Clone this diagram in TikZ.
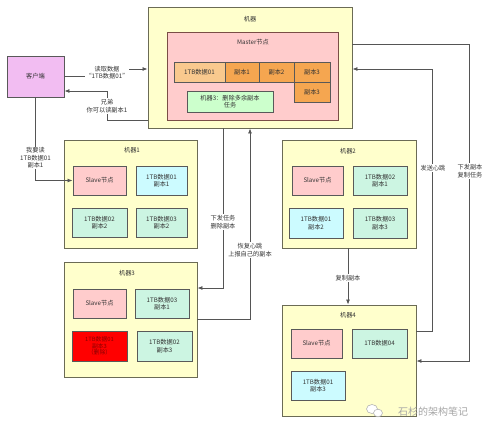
\documentclass[tikz,border=0pt]{standalone}
\usepackage{fontspec}
\setmainfont{Noto Sans CJK SC}
\usetikzlibrary{arrows.meta,calc}
\definecolor{machfill}{HTML}{FFFFCC}
\definecolor{machdraw}{HTML}{6B6B55}
\definecolor{pinkfill}{HTML}{FFCCCC}
\definecolor{pinkdraw}{HTML}{7A4E46}
\definecolor{mintfill}{HTML}{CCF5E2}
\definecolor{cyanfill}{HTML}{CCFBFF}
\definecolor{orgA}{HTML}{F9C98E}
\definecolor{orgB}{HTML}{F5A650}
\definecolor{greenfill}{HTML}{CCFFCC}
\definecolor{clientfill}{HTML}{F2BDF2}
\definecolor{linec}{HTML}{555555}
\definecolor{redtxt}{HTML}{8A0000}
\tikzset{
  every node/.style={font=\fontsize{6.2}{7.6}\selectfont, align=center, text=black!80},
  mach/.style={draw=machdraw, fill=machfill, line width=0.9pt, inner sep=0pt},
  cell/.style={draw=black!65, line width=0.9pt, inner sep=0pt},
  arr/.style={draw=linec, line width=0.8pt, -{Latex[length=5pt,width=4pt]}},
  lbl/.style={fill=white, inner sep=1pt},
}
\begin{document}
\begin{tikzpicture}[x=1pt,y=-1pt]
\useasboundingbox (0,0) rectangle (500,428);
\fill[white] (0,0) rectangle (500,428);
% Master machine
\node[mach, minimum width=204, minimum height=121] (m0) at (250,67.5) {};
\node (m0l) at (250,19) {机器};
\node[draw=pinkdraw, fill=pinkfill, line width=0.9pt, minimum width=171, minimum height=88, inner sep=0pt] (mn) at (252.5,76) {};
\node (mnl) at (253,42) {Master节点};
\node[cell, fill=orgA, minimum width=51, minimum height=20] (c1) at (199.5,72) {1TB数据01};
\node[cell, fill=orgB, minimum width=34, minimum height=20] (c2) at (242,72) {副本1};
\node[cell, fill=orgB, minimum width=35, minimum height=20] (c3) at (276.5,72) {副本2};
\node[cell, fill=orgB, minimum width=36, minimum height=20] (c4) at (312,72) {副本3};
\node[cell, fill=orgB, minimum width=36, minimum height=20] (c5) at (312,92) {副本3};
\node[cell, fill=greenfill, minimum width=86, minimum height=21] (g) at (230,101.5) {机器3：删除多余副本\\任务};
% Client
\node[cell, fill=clientfill, minimum width=57, minimum height=41] (client) at (35.5,76.5) {客户端};
% Machine 1
\node[mach, minimum width=133, minimum height=108] (m1) at (130.5,194) {};
\node (m1l) at (132,150) {机器1};
\node[cell, fill=pinkfill, minimum width=53, minimum height=29] (s1) at (99.5,180.5) {Slave节点};
\node[cell, fill=cyanfill, minimum width=51, minimum height=29] (a1) at (161.5,180.5) {1TB数据01\\副本1};
\node[cell, fill=mintfill, minimum width=55, minimum height=29] (b1) at (99.5,222.5) {1TB数据02\\副本2};
\node[cell, fill=mintfill, minimum width=51, minimum height=29] (d1) at (161.5,222.5) {1TB数据03\\副本2};
% Machine 2
\node[mach, minimum width=134, minimum height=108] (m2) at (349,194) {};
\node (m2l) at (348,151) {机器2};
\node[cell, fill=pinkfill, minimum width=51, minimum height=29] (s2) at (317.5,180.5) {Slave节点};
\node[cell, fill=mintfill, minimum width=54, minimum height=29] (a2) at (380,180.5) {1TB数据02\\副本1};
\node[cell, fill=cyanfill, minimum width=54, minimum height=30] (b2) at (316,223) {1TB数据01\\副本2};
\node[cell, fill=mintfill, minimum width=54, minimum height=30] (d2) at (380,223) {1TB数据03\\副本3};
% Machine 3
\node[mach, minimum width=133, minimum height=115] (m3) at (130.5,319.5) {};
\node (m3l) at (127,273) {机器3};
\node[cell, fill=pinkfill, minimum width=53, minimum height=29] (s3) at (99.5,303.5) {Slave节点};
\node[cell, fill=mintfill, minimum width=54, minimum height=29] (a3) at (162,303.5) {1TB数据03\\副本1};
\node[cell, fill=red, minimum width=55, minimum height=30, text=redtxt, font=\fontsize{5.8}{6.6}\selectfont] (r3) at (99.5,346) {1TB数据01\\副本3\\（删除）};
\node[cell, fill=mintfill, minimum width=55, minimum height=30] (d3) at (164.5,346) {1TB数据02\\副本3};
% Machine 4
\node[mach, minimum width=134, minimum height=111] (m4) at (349,360.5) {};
\node (m4l) at (348,315) {机器4};
\node[cell, fill=pinkfill, minimum width=51, minimum height=29] (s4) at (316.5,343.5) {Slave节点};
\node[cell, fill=mintfill, minimum width=55, minimum height=29] (a4) at (379.5,343.5) {1TB数据04};
\node[cell, fill=cyanfill, minimum width=54, minimum height=29] (b4) at (318,385.5) {1TB数据01\\副本3};
% Connectors
\draw[arr] (client.east) -- (107,76.5) -- (107,69) -- (m0.west |- 0,69);
\node[lbl] (l1) at (107,72.5) {读取数据\\“1TB数据01”};
\draw[arr] (m0.west |- 0,120) -- (107,120) -- (107,91) -- (client.east |- 0,91);
\node[lbl] (l2) at (107,106) {兄弟\\你可以读副本1};
\draw[arr] (client.south) |- (s1.west);
\node[lbl] (l3) at (35.5,158) {我要读\\1TB数据01\\副本1};
\draw[arr] (m0.south -| 223,0) -- (223,288) -- (m3.east |- 0,288);
\node[lbl] (l4) at (223,222) {下发任务\\删除副本};
\draw[arr] (m3.east |- 0,319) -- (250,319) -- (m0.south -| 250,0);
\node[lbl] (l5) at (250,250) {恢复心跳\\上报自己的副本};
\draw[arr] (m2.south -| 348,0) -- (m4.north -| 348,0);
\node[lbl] (l6) at (348,278) {复制副本};
\draw[arr] (m0.east |- 0,44) -- (469,44) -- (469,361) -- (m4.east |- 0,361);
\node[lbl] (l7) at (470,171) {下发副本\\复制任务};
\draw[arr] (m4.east |- 0,331) -- (432,331) -- (432,69) -- (m0.east |- 0,69);
\node[lbl] (l8) at (433,168) {发送心跳};
% Watermark
\draw[black!30, fill=white, line width=0.6pt] (372,409) ellipse (5.5 and 4.5);
\draw[black!30, fill=white, line width=0.6pt] (378,413) ellipse (4.5 and 3.8);
\node[text=black!35, font=\fontsize{10}{12}\selectfont] (wm) at (433,412) {石杉的架构笔记};
\end{tikzpicture}
\end{document}
